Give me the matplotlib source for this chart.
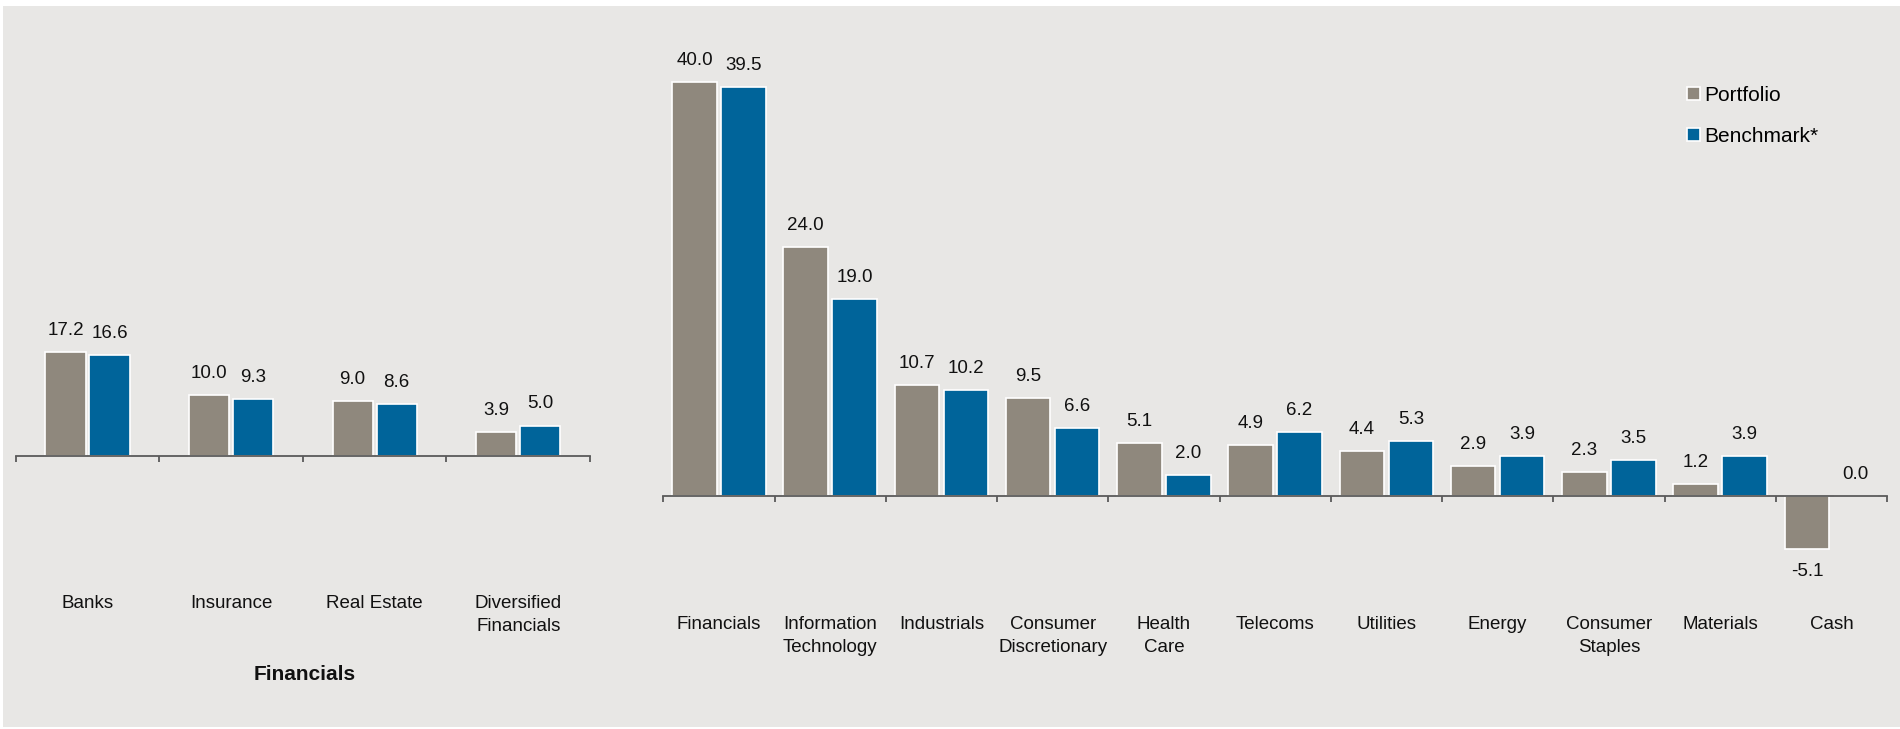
import matplotlib
matplotlib.use('Agg')
import matplotlib.pyplot as plt
from matplotlib.patches import Patch, Rectangle
import numpy as np

# Left panel: breakdown of the Financials sector
fin_categories = ['Banks', 'Insurance', 'Real Estate', 'Diversified\nFinancials']
fin_portfolio = [17.2, 10.0, 9.0, 3.9]
fin_benchmark = [16.6, 9.3, 8.6, 5.0]

# Right panel: sector allocation
sectors = ['Financials', 'Information\nTechnology', 'Industrials', 'Consumer\nDiscretionary',
           'Health\nCare', 'Telecoms', 'Utilities', 'Energy', 'Consumer\nStaples',
           'Materials', 'Cash']
sector_portfolio = [40.0, 24.0, 10.7, 9.5, 5.1, 4.9, 4.4, 2.9, 2.3, 1.2, -5.1]
sector_benchmark = [39.5, 19.0, 10.2, 6.6, 2.0, 6.2, 5.3, 3.9, 3.5, 3.9, 0.0]

series_names = ['Portfolio', 'Benchmark*']

PORT_COLOR = '#8F887D'
BENCH_COLOR = '#00649A'
BG_COLOR = '#E8E7E5'
AXIS_COLOR = '#5A5A5A'
TEXT_COLOR = '#111111'

plt.rcParams['font.family'] = ['Liberation Sans', 'DejaVu Sans']

W, H = 1900, 729
fig = plt.figure(figsize=(W / 100, H / 100), dpi=100)
fig.patch.set_facecolor('white')
# grey panel background with a thin white margin at top/left/bottom
fig.add_artist(Rectangle((3 / W, 2 / H), 1 - 3 / W, 1 - 8 / H, transform=fig.transFigure,
                         facecolor=BG_COLOR, edgecolor='none', zorder=-10))


def draw_panel(ax, cats, port, bench, width, offset, ylim, pad):
    x = np.arange(len(cats))
    ax.bar(x - offset, port, width, color=PORT_COLOR, edgecolor='white', linewidth=1.2)
    ax.bar(x + offset, bench, width, color=BENCH_COLOR, edgecolor='white', linewidth=1.2)

    # value labels
    for xs, vals in ((x - offset, port), (x + offset, bench)):
        for xi, v in zip(xs, vals):
            ax.annotate(f'{v:.1f}', (xi, v), xytext=(0, 15.5 if v >= 0 else -16),
                        textcoords='offset points', ha='center', va='center',
                        fontsize=13.5, color=TEXT_COLOR)

    ax.set_xlim(-0.5, len(cats) - 0.5)
    ax.set_ylim(*ylim)
    ax.set_facecolor('none')
    for s in ['top', 'right', 'left']:
        ax.spines[s].set_visible(False)
    ax.spines['bottom'].set_position(('data', 0))
    ax.spines['bottom'].set_color(AXIS_COLOR)
    ax.spines['bottom'].set_linewidth(1.3)
    ax.set_yticks([])

    ax.set_xticks(x, cats)
    ax.set_xticks(np.arange(len(cats) + 1) - 0.5, minor=True)
    ax.tick_params(axis='x', which='major', length=0, pad=pad, labelsize=13.5, labelcolor=TEXT_COLOR)
    ax.tick_params(axis='x', which='minor', length=4.5, width=1.3, color=AXIS_COLOR, direction='out')
    for lab in ax.get_xticklabels():
        lab.set_linespacing(1.45)


# left axes: zero line at y=456 px, ~6.05 px per unit
ax_left = fig.add_axes([15.7 / W, 1 - 473.9 / H, (590 - 15.7) / W, 23 * 6.05 / H])
draw_panel(ax_left, fin_categories, fin_portfolio, fin_benchmark, 0.28, 0.153, (-3, 20), pad=100.5)

# right axes: zero line at y=496 px, ~10.36 px per unit
ax_right = fig.add_axes([663.3 / W, 1 - 579 / H, (1887 - 663.3) / W, 52 * 10.36 / H])
draw_panel(ax_right, sectors, sector_portfolio, sector_benchmark, 0.4, 0.22, (-8, 44), pad=86.5)

fig.text(305 / W, 1 - 674 / H, 'Financials', fontweight='bold', fontsize=15,
         ha='center', va='center', color=TEXT_COLOR)

handles = [Patch(facecolor=PORT_COLOR, edgecolor='white', linewidth=1.2),
           Patch(facecolor=BENCH_COLOR, edgecolor='white', linewidth=1.2)]
fig.legend(handles, series_names, loc='upper left', bbox_to_anchor=(1687 / W, 1 - 86 / H),
           frameon=False, fontsize=15, handlelength=0.6, handleheight=0.6,
           handletextpad=0.25, labelspacing=1.05, borderpad=0, borderaxespad=0)

fig.savefig('out.png', dpi=100, facecolor=fig.get_facecolor())
